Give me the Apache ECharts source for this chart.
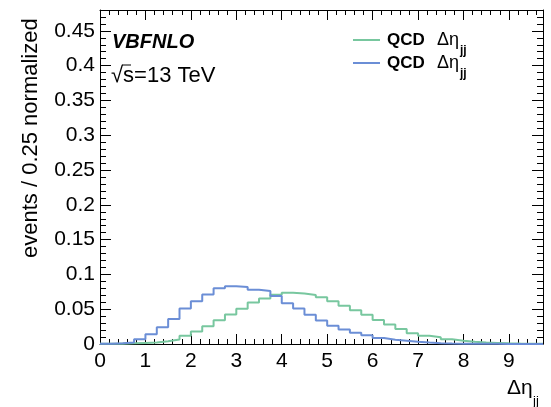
<!DOCTYPE html>
<html>
<head>
<meta charset="utf-8">
<script src="https://cdn.jsdelivr.net/npm/echarts@6/dist/echarts.min.js"></script>
<style>
html, body { margin: 0; padding: 0; background: #fff; }
#chart { width: 551px; height: 407px; }
</style>
</head>
<body>
<div id="chart"></div>
<script>
// histogram bins: 0 .. 9.75, width 0.25
var binWidth = 0.25;
var qcdGreen = [0.0002, 0.0005, 0.001, 0.0015, 0.002, 0.0038, 0.0065, 0.0117, 0.0178, 0.0255,
    0.034, 0.0425, 0.0505, 0.0595, 0.0655, 0.0706, 0.0738, 0.0725, 0.0703, 0.0672,
    0.0615, 0.055, 0.0485, 0.042, 0.0346, 0.028, 0.0216, 0.0154, 0.012, 0.0098,
    0.0068, 0.0048, 0.0033, 0.002, 0.0015, 0.001, 0.0007, 0.0005, 0.0003];
var qcdBlue = [0.0005, 0.001, 0.002, 0.007, 0.014, 0.024, 0.036, 0.051, 0.0615, 0.071,
    0.080, 0.083, 0.082, 0.078, 0.076, 0.069, 0.0586, 0.051, 0.042, 0.0336,
    0.0264, 0.021, 0.016, 0.0125, 0.0086, 0.0062, 0.0048, 0.0033, 0.002, 0.0012,
    0.0008, 0.0005, 0.0004, 0.0003, 0.0002, 0.0001, 0.0001, 0.0001, 0.0001];
var labelFont = 'Liberation Sans';

// turn bin contents into step points (left edge of each bin + closing edge)
function toSteps(vals) {
    var pts = [];
    for (var i = 0; i < vals.length; i++) {
        pts.push([i * binWidth, vals[i]]);
    }
    pts.push([vals.length * binWidth, vals[vals.length - 1]]);
    return pts;
}

var xMax = qcdGreen.length * binWidth;

var myChart = echarts.init(document.getElementById('chart'));

function frameAxis(pos, isX, showLabel) {
    var ax = {
        type: 'value',
        position: pos,
        min: 0,
        max: isX ? xMax : 0.48,
        interval: isX ? 1 : 0.05,
        axisLine: { show: true, onZero: false, lineStyle: { color: '#000', width: 1 } },
        axisTick: { show: true, inside: true, length: isX ? 10 : 11, lineStyle: { color: '#000' } },
        minorTick: { show: true, splitNumber: 5, length: isX ? 5 : 6, lineStyle: { color: '#000' } },
        splitLine: { show: false },
        axisLabel: {
            show: showLabel,
            color: '#000',
            fontSize: 21,
            fontFamily: labelFont,
            margin: isX ? 7 : 5,
            showMaxLabel: false
        }
    };
    return ax;
}

var option = {
    animation: false,
    backgroundColor: '#fff',
    grid: { left: 100, right: 8, top: 10, bottom: 63 },
    xAxis: [frameAxis('bottom', true, true), frameAxis('top', true, false)],
    yAxis: [frameAxis('left', false, true), frameAxis('right', false, false)],
    series: [
        {
            name: 'QCD green',
            type: 'line',
            step: 'end',
            symbol: 'none',
            xAxisIndex: 0,
            yAxisIndex: 0,
            lineStyle: { color: '#78c79f', width: 2 },
            data: toSteps(qcdGreen)
        },
        {
            name: 'QCD blue',
            type: 'line',
            step: 'end',
            symbol: 'none',
            xAxisIndex: 0,
            yAxisIndex: 0,
            lineStyle: { color: '#6b8ed6', width: 2 },
            data: toSteps(qcdBlue)
        }
    ],
    graphic: [
        // y axis title
        {
            type: 'text', x: 42, y: 258, rotation: Math.PI / 2,
            style: { text: 'events / 0.25 normalized', font: '22px Liberation Sans', fill: '#000',
                textAlign: 'left', textVerticalAlign: 'bottom' }
        },
        // x axis title
        {
            type: 'text', x: 507, y: 388,
            style: { text: 'Δη', font: '21px Liberation Sans', fill: '#000', textVerticalAlign: 'middle' }
        },
        {
            type: 'text', x: 533, y: 401,
            style: { text: 'jj', font: '13px Liberation Sans', fill: '#000', textVerticalAlign: 'middle' }
        },
        // labels
        {
            type: 'text', x: 112, y: 42,
            style: { text: 'VBFNLO', font: 'italic bold 20px Liberation Sans', fill: '#000', textVerticalAlign: 'middle' }
        },
        {
            type: 'text', x: 111, y: 76,
            style: { text: '√s=13 TeV', font: '22px Liberation Sans', fill: '#000', textVerticalAlign: 'middle' }
        },
        {
            type: 'line', shape: { x1: 122, y1: 65, x2: 131, y2: 65 },
            style: { stroke: '#000', lineWidth: 1 }
        },
        // legend
        {
            type: 'line', shape: { x1: 353, y1: 40, x2: 380, y2: 40 },
            style: { stroke: '#78c79f', lineWidth: 2 }
        },
        {
            type: 'line', shape: { x1: 353, y1: 63, x2: 380, y2: 63 },
            style: { stroke: '#6b8ed6', lineWidth: 2 }
        },
        {
            type: 'text', x: 387, y: 40,
            style: { text: 'QCD', font: 'bold 17px Liberation Sans', fill: '#000', textVerticalAlign: 'middle' }
        },
        {
            type: 'text', x: 437, y: 40,
            style: { text: 'Δη', font: '18px Liberation Sans', fill: '#000', textVerticalAlign: 'middle' }
        },
        {
            type: 'text', x: 460, y: 51,
            style: { text: 'jj', font: 'bold 12px Liberation Sans', fill: '#000', textVerticalAlign: 'middle' }
        },
        {
            type: 'text', x: 387, y: 63,
            style: { text: 'QCD', font: 'bold 17px Liberation Sans', fill: '#000', textVerticalAlign: 'middle' }
        },
        {
            type: 'text', x: 437, y: 63,
            style: { text: 'Δη', font: '18px Liberation Sans', fill: '#000', textVerticalAlign: 'middle' }
        },
        {
            type: 'text', x: 460, y: 74,
            style: { text: 'jj', font: 'bold 12px Liberation Sans', fill: '#000', textVerticalAlign: 'middle' }
        }
    ]
};
myChart.setOption(option);
</script>
</body>
</html>
